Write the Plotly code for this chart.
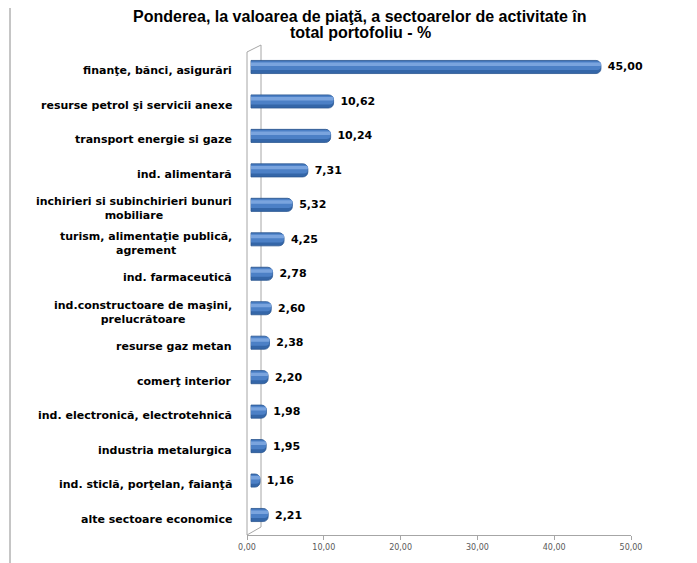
import plotly.graph_objects as go

categories = [
    "finanţe, bănci, asigurări",
    "resurse petrol şi servicii anexe",
    "transport energie si gaze",
    "ind. alimentară",
    "inchirieri si subinchirieri bunuri<br>mobiliare",
    "turism, alimentaţie publică,<br>agrement",
    "ind. farmaceutică",
    "ind.constructoare de maşini,<br>prelucrătoare",
    "resurse gaz metan",
    "comerţ interior",
    "ind. electronică, electrotehnică",
    "industria metalurgica",
    "ind. sticlă, porţelan, faianţă",
    "alte sectoare economice",
]
values = [45.00, 10.62, 10.24, 7.31, 5.32, 4.25, 2.78, 2.60, 2.38, 2.20, 1.98, 1.95, 1.16, 2.21]
x_ticks = [0, 10, 20, 30, 40, 50]
title_lines = ["Ponderea, la valoarea de piaţă, a sectoarelor de activitate în", "total portofoliu - %"]

labels = [f"{v:.2f}".replace(".", ",") for v in values]

OFF = 8  # page body margin
W, H = 697 - OFF, 563 - OFF
L = 247 - OFF
R = W - (631 - OFF)
T = 45 - OFF
B = H - (535 - OFF)
pw, ph = W - L - R, H - T - B

def px_x(p):
    return (p - OFF - L) / pw

def px_y(p):
    return (H - B - (p - OFF)) / ph

fig = go.Figure()

fig.add_trace(go.Bar(
    x=values, y=categories, orientation="h", xaxis="x", yaxis="y",
    width=0.38, marker=dict(color="#3466A8", line=dict(color="#2B5791", width=0.8), cornerradius=5),
    text=labels, textposition="outside", cliponaxis=False,
    texttemplate="\u00a0%{text}",
    textfont=dict(family="DejaVu Sans", size=11, color="#000000", weight="bold"),
    hoverinfo="skip", showlegend=False,
))
fig.add_trace(go.Bar(
    x=values, y=categories, orientation="h", xaxis="x", yaxis="y",
    width=0.26, offset=-0.17, marker=dict(color="#4C80C6", line=dict(width=0), cornerradius=4),
    hoverinfo="skip", showlegend=False,
))
fig.add_trace(go.Bar(
    x=values, y=categories, orientation="h", xaxis="x", yaxis="y",
    width=0.1, offset=-0.13, marker=dict(color="#7AA4DE", line=dict(width=0), cornerradius=2),
    hoverinfo="skip", showlegend=False,
))
fig.add_trace(go.Scatter(x=[x_ticks[0], x_ticks[-1]], y=[categories[0], categories[0]], xaxis="x2", yaxis="y",
                         mode="markers", marker=dict(opacity=0), hoverinfo="skip", showlegend=False))

annotations = []
for c in categories:
    annotations.append(dict(
        x=px_x(234), xref="paper", y=c, yref="y", yshift=-4,
        text=c, showarrow=False, xanchor="right", yanchor="middle", align="center",
        font=dict(family="DejaVu Sans", size=11, color="#000000", weight="bold"),
    ))
for i, (line, yy) in enumerate(zip(title_lines, [17, 33])):
    annotations.append(dict(
        x=px_x(360), xref="paper", y=px_y(yy), yref="paper", text=line, showarrow=False,
        xanchor="center", yanchor="middle",
        font=dict(family="Liberation Sans", size=16, color="#000000", weight="bold"),
    ))

line_col = "#A6A6A6"
shapes = [
    dict(type="line", xref="paper", yref="paper", x0=px_x(247), x1=px_x(247), y0=px_y(52), y1=px_y(535),
         line=dict(color=line_col, width=1), layer="below"),
    dict(type="line", xref="paper", yref="paper", x0=px_x(247), x1=px_x(261), y0=px_y(52), y1=px_y(45),
         line=dict(color=line_col, width=1), layer="below"),
    dict(type="line", xref="paper", yref="paper", x0=px_x(261), x1=px_x(261), y0=px_y(45), y1=px_y(527),
         line=dict(color=line_col, width=1), layer="below"),
    dict(type="line", xref="paper", yref="paper", x0=px_x(261), x1=px_x(247), y0=px_y(527), y1=px_y(535),
         line=dict(color=line_col, width=1), layer="below"),
    dict(type="line", xref="paper", yref="paper", x0=px_x(10), x1=px_x(10), y0=px_y(8), y1=px_y(563),
         line=dict(color="#8C8C8C", width=1)),
]

fig.update_layout(
    width=W, height=H,
    margin=dict(l=L, r=R, t=T, b=B),
    paper_bgcolor="white", plot_bgcolor="white",
    separators=",.",
    barmode="overlay",
    xaxis=dict(range=[-0.514, 48.86], visible=False, showgrid=False, zeroline=False),
    xaxis2=dict(overlaying="x", anchor="y", side="bottom", range=[0, 50], tickvals=x_ticks,
                tickformat=".2f", showgrid=False, zeroline=False, showline=True,
                linecolor="#A6A6A6", linewidth=1, ticks="outside", ticklen=4, tickcolor="#A6A6A6",
                tickfont=dict(family="DejaVu Sans", size=8, color="#595959")),
    yaxis=dict(range=[13.58, -0.638], type="category", categoryorder="array", categoryarray=categories,
               showticklabels=False, showgrid=False, zeroline=False, showline=False, ticks=""),
    annotations=annotations,
    shapes=shapes,
)

fig.write_html("out.html")
